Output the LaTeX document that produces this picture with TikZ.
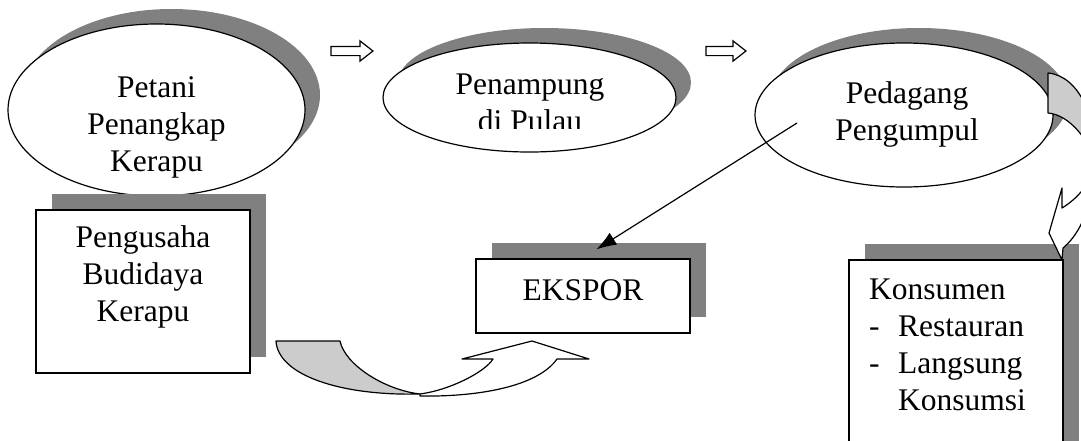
\documentclass[tikz,border=0pt]{standalone}
\usepackage{fontspec}
\setmainfont{Liberation Serif}
\usetikzlibrary{shapes.geometric,shapes.arrows,shadows,arrows.meta,positioning}

\definecolor{shade}{gray}{0.5}
\definecolor{ribbon}{gray}{0.8}

\tikzset{
  bubble/.style={ellipse, draw, fill=white, line width=1.2pt, inner sep=0pt,
    general shadow={shadow xshift=15pt, shadow yshift=15pt, fill=shade}},
  card/.style={rectangle, draw, fill=white, line width=1.2pt, inner sep=0pt,
    general shadow={shadow xshift=16pt, shadow yshift=16pt, fill=shade}},
  txt/.style={inner sep=0pt, align=center, font=\fontsize{31.5}{37}\selectfont},
  flow/.style={single arrow, draw, fill=white, line width=1.2pt, inner xsep=0pt,
    inner ysep=4pt, minimum height=42pt, minimum width=19pt,
    single arrow head extend=5.5pt, single arrow tip angle=76},
  band/.style={draw, line width=1.2pt, line join=round},
}

\begin{document}
\begin{tikzpicture}[x=1pt, y=-1pt]
  \useasboundingbox (0,0) rectangle (1081,440);
  \clip (0,0) rectangle (1081,440);

  % catchers and first buyers
  \node[bubble, minimum width=297pt, minimum height=172pt] (petani) at (156.5,110) {};
  \node[txt, anchor=north] (petanitxt) at (156.5,76) {Petani\\Penangkap\\Kerapu};

  \node[card, minimum width=214pt, minimum height=163pt] (pengusaha) at (143,291.5) {};
  \node[txt, below=16pt of pengusaha.north] (pengusahatxt) {Pengusaha\\Budidaya\\Kerapu};

  \node[bubble, minimum width=293pt, minimum height=109pt] (penampung) at (529.5,97.5) {};
  \begin{scope}
    \clip (380,40) rectangle (680,128);
    \node[txt, anchor=north] (penampungtxt) at (530,74) {Penampung\\di Pulau};
  \end{scope}

  \node[bubble, minimum width=298pt, minimum height=144pt] (pedagang) at (904,115) {};
  \node[txt, anchor=north] (pedagangtxt) at (907,81) {Pedagang\\Pengumpul};

  % hollow arrows along the chain
  \node[flow, minimum height=42pt] (flowA) at (349,51) {};
  \node[flow, minimum height=40pt] (flowB) at (723,51) {};

  % export and consumers
  \node[card, minimum width=214pt, minimum height=74pt] (ekspor) at (583,296) {};
  \node[txt] (eksportxt) at (583,290) {EKSPOR};

  \node[card, minimum width=214pt, minimum height=200pt] (konsumen) at (956,360) {};
  \node[txt, align=left, anchor=north west] (konsumentxt) at (869,279)
    {Konsumen\\\makebox[29pt][l]{-}Restauran\\\makebox[29pt][l]{-}Langsung\\\hspace*{29pt}Konsumsi};

  % trader -> export
  \coordinate (jualA) at ([xshift=-107pt,yshift=-8pt]pedagang.center);
  \coordinate (jualB) at ([xshift=121pt,yshift=9pt]ekspor.north west);
  \draw[line width=1.2pt, -{Latex[length=20pt,width=14pt]}] (jualA) -- (jualB);

  % curved arrow below: farm -> export
  \filldraw[band, fill=ribbon] (276,341) -- (340,341)
    .. controls (345,365) and (385,390) .. (420,394)
    .. controls (340,396) and (278,375) .. (276,341) -- cycle;
  \filldraw[band, fill=white] (420,394)
    .. controls (450,390) and (485,372) .. (493,359)
    -- (462,359) -- (532,341) -- (589,359) -- (557,359)
    .. controls (538,386) and (480,397) .. (420,396) -- cycle;

  % curved arrow on the right: trader -> consumers
  \filldraw[band, fill=ribbon] (1048,73) -- (1048,113)
    .. controls (1070,115) and (1088,140) .. (1095,160)
    .. controls (1097,120) and (1080,76) .. (1048,73) -- cycle;
  \filldraw[band, fill=white] (1095,160)
    .. controls (1093,215) and (1075,238) .. (1063,248)
    -- (1062,260) -- (1049,233) -- (1062,188) -- (1062,208)
    .. controls (1075,200) and (1092,185) .. (1095,160) -- cycle;
\end{tikzpicture}
\end{document}
